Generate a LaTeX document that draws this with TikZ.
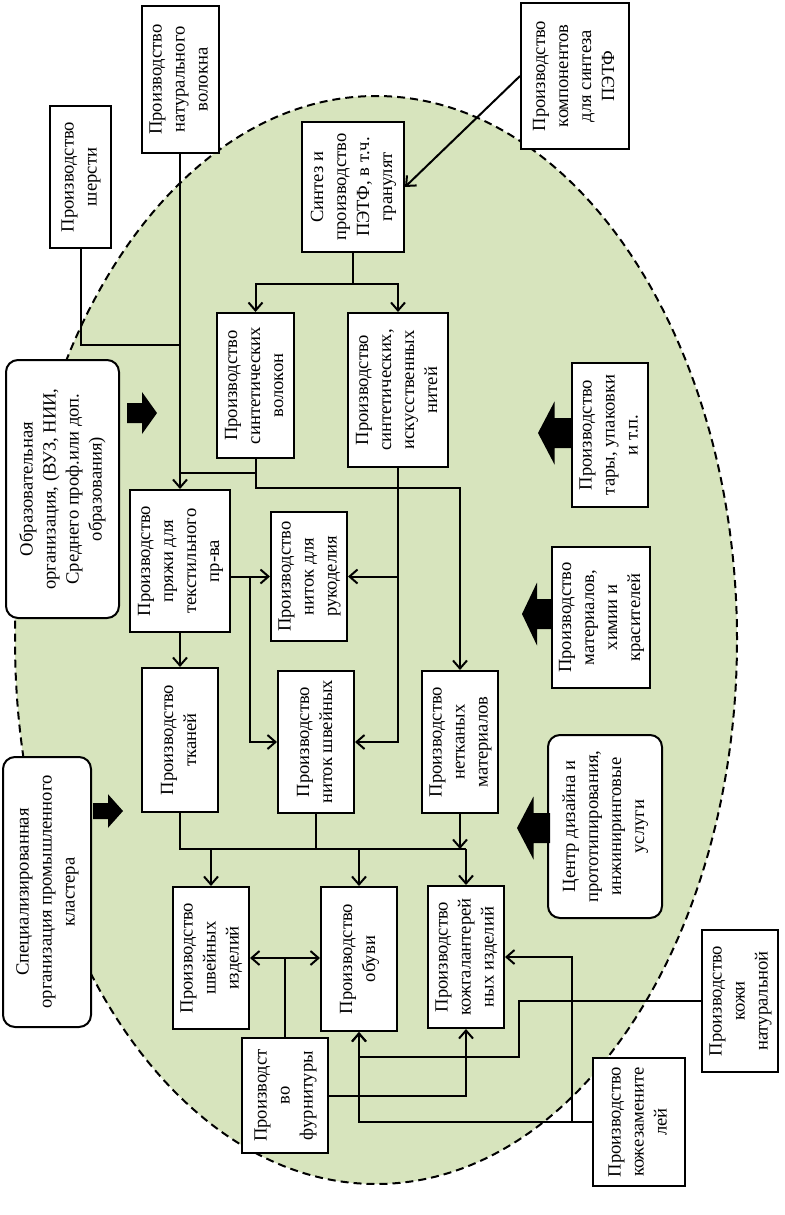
\documentclass[tikz,border=0pt]{standalone}
\usepackage{fontspec}
\setmainfont{Liberation Serif}
\usepackage{graphicx}
\usetikzlibrary{arrows.meta, positioning, calc}

\definecolor{clgreen}{HTML}{D7E4BD}
% rotated multi-line text, read from bottom to top
\newcommand{\vtext}[1]{\rotatebox{90}{\begin{tabular}{@{}c@{}}#1\end{tabular}}}

\tikzset{
  box/.style={draw, fill=white, line width=1pt, inner sep=0pt, font=\fontsize{9.3}{11.5}\selectfont},
  rbox/.style={box, rounded corners=6pt},
  sz/.style 2 args={minimum width=#1*0.5pt, minimum height=#2*0.5pt},
  wire/.style={line width=1pt},
  link/.style={line width=1pt, -{Straight Barb[length=4pt,width=7pt]}},
  duolink/.style={line width=1pt, {Straight Barb[length=4pt,width=7pt]}-{Straight Barb[length=4pt,width=7pt]}},
  blockarr/.pic={\fill (0,0) -- (-15,-21) -- (-15,-10) -- (-30,-10) -- (-30,10) -- (-15,10) -- (-15,21) -- cycle;}
}

\begin{document}
\begin{tikzpicture}[x=0.5pt, y=-0.5pt]
    \useasboundingbox (0,0) rectangle (785,1215);

    % Cluster area
    \draw[fill=clgreen, line width=1pt, dash pattern=on 4pt off 2.5pt]
        (376,640) ellipse [x radius=180.5pt, y radius=272pt];

    % Outer suppliers
    \node[box, sz={61}{142}] (sher) at (80.5,177) {\vtext{Производство\\шерсти}};
    \node[box, sz={77}{147}] (nat) at (180,79.5) {\vtext{Производство\\натурального\\волокна}};
    \node[box, sz={108}{146}] (komp) at (575,76) {\vtext{Производство\\компонентов\\для синтеза\\ПЭТФ}};
    \node[box, sz={76}{142}] (kozha) at (740,1001) {\vtext{Производство\\кожи\\натуральной}};
    \node[box, sz={92}{128}] (kozhzam) at (639,1122) {\vtext{Производство\\кожезамените\\лей}};

    % Synthetic chain
    \node[box, sz={102}{130}] (sint) at (353,187) {\vtext{Синтез и\\производство\\ПЭТФ, в т.ч.\\гранулят}};
    \node[box, sz={77}{145}] (volok) at (255.5,385.5) {\vtext{Производство\\синтетических\\волокон}};
    \node[box, sz={100}{154}] (nit) at (398,390) {\vtext{Производство\\синтетических,\\искусственных\\нитей}};

    % Yarn, threads, fabrics
    \node[box, sz={100}{142}] (pryazh) at (180,561) {\vtext{Производство\\пряжи для\\текстильного\\пр-ва}};
    \node[box, sz={76}{129}] (ruk) at (309,576.5) {\vtext{Производство\\ниток для\\рукоделия}};
    \node[box, sz={76}{144}] (tkan) at (180,740) {\vtext{Производство\\тканей}};
    \node[box, sz={76}{142}] (shvnit) at (316,742) {\vtext{Производство\\ниток швейных}};
    \node[box, sz={76}{142}] (netk) at (460,742) {\vtext{Производство\\нетканых\\материалов}};

    % Final products
    \node[box, sz={76}{142}] (shvizd) at (211,958) {\vtext{Производство\\швейных\\изделий}};
    \node[box, sz={76}{144}] (obuv) at (359,959) {\vtext{Производство\\обуви}};
    \node[box, sz={76}{142}] (kozhgal) at (466,957) {\vtext{Производство\\кожгалантерей\\ных изделий}};
    \node[box, sz={86}{115}] (furn) at (285,1095.5) {\vtext{Производст\\во\\фурнитуры}};

    % Support organisations
    \node[rbox, sz={113}{258}] (obraz) at (62.5,489) {\vtext{Образовательная\\организация, (ВУЗ, НИИ,\\Среднего проф.или доп.\\образования)}};
    \node[rbox, sz={88}{270}] (spec) at (47,892) {\vtext{Специализированная\\организация промышленного\\кластера}};
    \node[box, sz={76}{144}] (tara) at (610,435) {\vtext{Производство\\тары, упаковки\\и т.п.}};
    \node[box, sz={98}{141}] (mater) at (601,617.5) {\vtext{Производство\\материалов,\\химии и\\красителей}};
    \node[rbox, sz={114}{183}] (centr) at (605,826.5) {\vtext{Центр дизайна и\\прототипирования,\\инжиниринговые\\услуги}};

    % Block arrows
    \pic at (157,413) {blockarr};
    \pic[yscale=0.8] at (123,811) {blockarr};
    \pic[xscale=-1.1, yscale=1.5] at (538,433) {blockarr};
    \pic[xscale=-1, yscale=1.5] at (522,614) {blockarr};
    \pic[xscale=-1.1, yscale=1.5] at (517,828) {blockarr};

    % Connectors
    \draw[link] (komp.west) -- (sint.east);
    \draw[link] (sint.south) -- ++(0,31) -| (volok.north);
    \draw[link] (sint.south) -- ++(0,31) -| (nit.north);
    \draw[wire] (sher.south) |- (nat.south |- 0,345);
    \draw[link] (nat.south) -- (pryazh.north);
    \draw[wire] (volok.south) |- (nat.south |- 0,473);
    \draw[link] (volok.south) -- ++(0,29) -| (netk.north);
    \draw[link] (nit.south) |- (ruk.east);
    \draw[link] (nit.south) |- (shvnit.east);
    \draw[link] (pryazh.east |- ruk.west) -- (ruk.west);
    \coordinate (j1) at ($(pryazh.east |- ruk.west)+(19,0)$);
    \draw[link] (j1) |- (shvnit.west);
    \draw[link] (pryazh.south) -- (tkan.north);

    \draw[wire] (tkan.south) -- (tkan.south |- 0,849) coordinate (bL) -- (kozhgal.north |- bL) coordinate (bR);
    \draw[wire] (shvnit.south) -- (shvnit.south |- bL);
    \draw[link] (netk.south) -- (netk.south |- bL);
    \draw[link] (shvizd.north |- bL) -- (shvizd.north);
    \draw[link] (obuv.north |- bL) -- (obuv.north);
    \draw[link] (bR) -- (kozhgal.north);

    \draw[duolink] (shvizd.east) -- (shvizd.east -| obuv.west);
    \draw[wire] (furn.north) -- (furn.north |- shvizd.east);
    \draw[link] (furn.east) -| (kozhgal.south);
    \draw[link] (kozha.west) -| ++(-182,56) -| (obuv.south);
    \draw[link] (kozhzam.west) -| (obuv.south);
    \coordinate (j2) at ($(kozhzam.west)+(-20,0)$);
    \draw[link] (j2) |- (kozhgal.east);
\end{tikzpicture}
\end{document}
